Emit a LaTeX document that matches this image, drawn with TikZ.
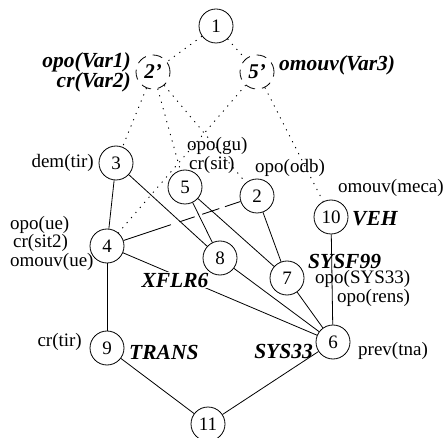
\documentclass[tikz,border=0pt]{standalone}
\usepackage{fontspec}
\setmainfont{Liberation Serif}
\begin{document}
\begin{tikzpicture}[x=1pt,y=-1pt,
  vtx/.style={circle,draw,line width=0.8pt,minimum size=34pt,inner sep=0pt,font=\fontsize{19}{19}\selectfont},
  dvtx/.style={vtx,dash pattern=on 10pt off 7pt,font=\fontsize{21}{21}\selectfont\bfseries\itshape},
  lbl/.style={inner sep=0pt,font=\fontsize{19}{19}\selectfont},
  blbl/.style={inner sep=0pt,font=\fontsize{21.5}{21.5}\selectfont\bfseries\itshape},
  dotl/.style={line width=0.9pt,dash pattern=on 1.2pt off 5.5pt},
  edg/.style={line width=0.8pt}
]
\useasboundingbox (0,0) rectangle (447,438);
% vertices
\node[vtx] (n1) at (216,26) {1};
\node[dvtx] (n2p) at (153,72) {2’};
\node[dvtx] (n5p) at (257,72) {5’};
\node[vtx] (n3) at (116,163) {3};
\node[vtx] (n5) at (185,187) {5};
\node[vtx] (n2) at (257,196) {2};
\node[vtx] (n10) at (331,217) {10};
\node[vtx] (n4) at (107,246) {4};
\node[vtx] (n8) at (220,258) {8};
\node[vtx] (n7) at (287,278) {7};
\node[vtx] (n6) at (333,342) {6};
\node[vtx] (n9) at (107,348) {9};
\node[vtx] (n11) at (208,424) {11};
% dotted edges
\draw[dotl] (n1) -- (n2p);
\draw[dotl] (n1) -- (n5p);
\draw[dotl] (n2p) -- (n3);
\draw[dotl] (n2p) -- (n5);
\draw[dotl] (n2p) -- (n2);
\draw[dotl] (n5p) -- (n4);
\draw[dotl] (n5p) -- (n10);
% solid edges
\draw[edg] (n3) -- (n4);
\draw[edg] (n3) -- (n8);
\draw[edg] (n5) -- (n8);
\draw[edg] (n5) -- (n7);
\draw[edg] (n2) -- (n7);
\draw[edg,dash pattern=on 50pt off 9pt on 16pt off 8pt on 18pt off 6pt on 30pt] (n4) -- (n2);
\draw[edg] (n4) -- (n9);
\draw[edg] (n4) -- (n6);
\draw[edg] (n8) -- (n6);
\draw[edg] (n7) -- (n6);
\draw[edg] (n10) -- (n6);
\draw[edg] (n9) -- (n11);
\draw[edg] (n6) -- (n11);
% labels
\node[blbl,anchor=east] (lv1) at (131,62) {opo(Var1)};
\node[blbl,anchor=east] (lv2) at (131,82) {cr(Var2)};
\node[blbl,anchor=west] (lv3) at (279,65) {omouv(Var3)};
\node[lbl,anchor=west] (lgu) at (187,146) {opo(gu)};
\node[lbl,anchor=west] (lsit) at (189,165) {cr(sit)};
\node[lbl,anchor=east] (ldem) at (94,163) {dem(tir)};
\node[lbl,anchor=west] (lodb) at (255,168) {opo(odb)};
\node[lbl,anchor=west] (lmeca) at (338,188) {omouv(meca)};
\node[blbl,anchor=west] (lveh) at (352,219) {VEH};
\node[lbl,anchor=west] (lue) at (10,225) {opo(ue)};
\node[lbl,anchor=west] (lsit2) at (13,243) {cr(sit2)};
\node[lbl,anchor=west] (lomue) at (10,262) {omouv(ue)};
\node[blbl,fill=white,inner sep=1pt] (lxf) at (175,280) {XFLR6};
\node[blbl,anchor=west] (lsysf) at (308,261) {SYSF99};
\node[lbl,anchor=west] (lsys) at (315,279) {opo(SYS33)};
\node[lbl,anchor=west] (lrens) at (337,298) {opo(rens)};
\node[lbl,anchor=east] (lcrtir) at (82,342) {cr(tir)};
\node[blbl,anchor=west] (ltrans) at (129,352) {TRANS};
\node[blbl,anchor=east] (lsys33) at (313,351) {SYS33};
\node[lbl,anchor=west] (lprev) at (358,351) {prev(tna)};
\end{tikzpicture}
\end{document}
